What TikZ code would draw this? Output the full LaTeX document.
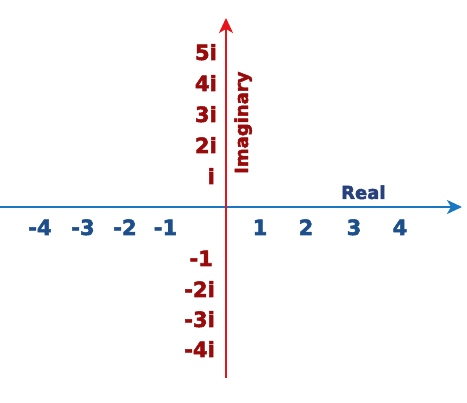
\documentclass[tikz,border=0pt]{standalone}
\usepackage{fontspec}
\setmainfont{DejaVu Sans}
\newfontfamily\heavy{DejaVu Sans Bold}[FakeBold=2.5]
\usetikzlibrary{arrows.meta}
\definecolor{axred}{HTML}{E8141B}
\definecolor{axblue}{HTML}{1A78C2}
\definecolor{lblblue}{HTML}{1D4F8A}
\definecolor{lblred}{HTML}{990B0B}
\definecolor{realblue}{HTML}{27407E}
\begin{document}
\begin{tikzpicture}[x=1pt,y=-1pt,
  axis/.style={line width=2pt,-{Stealth[length=15pt,width=14pt,inset=4pt]}},
  relbl/.style={text=lblblue,font=\heavy\fontsize{21}{21}\selectfont,inner sep=0pt,anchor=base},
  imlbl/.style={text=lblred,font=\heavy\fontsize{21}{21}\selectfont,inner sep=0pt,anchor=base east},
  ttl/.style={font=\heavy\fontsize{18}{18}\selectfont,inner sep=0pt}]
\useasboundingbox (0,0) rectangle (467,403);
\coordinate (xl) at (0,207);
\coordinate (xr) at (462,207);
\coordinate (yb) at (226,378);
\coordinate (yt) at (226,18);
\draw[axis,axblue] (xl) -- (xr);
\draw[axis,axred] (yb) -- (yt);
\node[relbl] (m4) at (40,235) {-4};
\node[relbl] (m3) at (83,235) {-3};
\node[relbl] (m2) at (125,235) {-2};
\node[relbl] (m1) at (165.5,235) {-1};
\node[relbl] (p1) at (260,235) {1};
\node[relbl] (p2) at (306,235) {2};
\node[relbl] (p3) at (354,235) {3};
\node[relbl] (p4) at (400,235) {4};
\node[imlbl] (i5) at (217,60) {5i};
\node[imlbl] (i4) at (217,91) {4i};
\node[imlbl] (i3) at (217,122) {3i};
\node[imlbl] (i2) at (217,153) {2i};
\node[imlbl] (i1) at (215,184) {i};
\node[imlbl] (n1) at (213,266) {-1};
\node[imlbl] (n2) at (215,297) {-2i};
\node[imlbl] (n3) at (215,327) {-3i};
\node[imlbl] (n4) at (215,357) {-4i};
\node[ttl,text=realblue,anchor=base west] (real) at (341,199) {Real};
\node[ttl,text=lblred,anchor=base west,rotate=90] (imag) at (248,174) {Imaginary};
\end{tikzpicture}
\end{document}
